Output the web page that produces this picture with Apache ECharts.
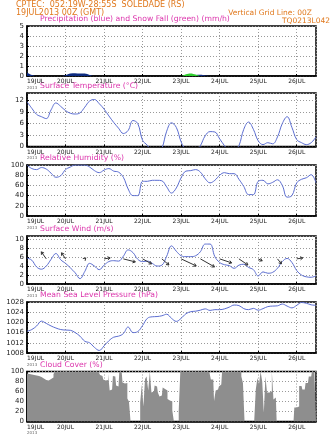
<!DOCTYPE html>
<html><head><meta charset="utf-8">
<script src="https://cdn.jsdelivr.net/npm/echarts@6/dist/echarts.min.js"></script>
<style>html,body{margin:0;padding:0;background:#fff}#c{width:336px;height:435px}</style>
</head><body><div id="c"></div>
<script>
// ---------- DATA ----------
const dayLabels = ['19JUL','20JUL','21JUL','22JUL','23JUL','24JUL','25JUL','26JUL'];
const yearLabel = '2013';
const stepHours = 3;      // series below are every 3 hours from 19JUL 00Z
const cloudStepHours = 1; // cloud cover is hourly

const precipBlue = [0.35,0.1,0,0,0,0,0,0,0.08,0.25, 0.28,0.25,0.25,0.1,0,0,0,0,0,0,
  0,0,0,0,0,0,0,0,0,0, 0,0,0,0,0.04,0.1,0.12,0.05,0,0, 0,0,0,0,0,0,0,0,0,0,
  0,0,0,0,0,0,0,0,0,0, 0];
const snowGreen = [0,0,0,0,0,0,0,0,0,0, 0,0,0,0,0,0,0,0,0,0,
  0,0,0,0,0,0,0,0,0,0, 0,0,0,0.18,0.25,0.14,0,0,0,0, 0,0,0,0,0,0,0,0,0,0,
  0,0,0,0,0,0,0,0,0,0, 0];
const temperature = [11.7,10.0,8.4,7.8,7.3,9.6,11.4,10.5,9.4,8.7,
  8.5,8.8,10.3,11.9,12.3,11.2,9.8,8.0,6.3,4.8,
  3.4,4.2,6.8,6.0,1.6,0.3,-1.5,-2,-0.5,4.0,
  6.2,5.0,1.2,-1.0,-2,-1.5,0.2,2.8,3.9,3.8,
  2.0,0.2,-1.5,-1.5,0.2,4.5,6.4,4.5,1.5,0.5,
  1.0,0.7,2.5,6.0,7.8,5.0,1.8,1.0,0.5,1.0, 2.5];
const humidity = [100,93,91,95,92,84,76,79,91,96,
  100,100,100,96,89,85,90,93,88,86,
  76,53,40,40,68,68,70,70,69,57,
  45,55,75,88,89,91,86,73,65,70,
  80,85,83,83,72,58,42,42,68,70,
  63,66,71,60,37,40,65,72,75,81, 65];
const windSpeed = [5.8,5.3,3.8,3.3,4.0,5.5,6.8,5.4,4.6,3.6,
  2.5,1.2,2.8,4.6,4.0,3.2,4.2,5.0,5.2,5.1,
  6.2,7.6,7.0,5.5,5.0,5.1,4.6,4.0,4.2,6.2,
  8.5,7.3,6.3,6.1,6.1,6.3,7.2,8.9,8.9,6.1,
  4.8,4.3,4.1,3.5,4.2,4.4,3.7,3.2,1.8,2.7,
  2.4,2.6,3.5,5.0,5.7,4.8,3.0,2.0,1.6,1.5, 1.8];
const arrowHours = [12,24,36,48,60,72,84,96,108,120,132,144,156,168];
const arrowU = [-3.1,-2.5,0.6,3.8,7.5,5.6,4.4,9.4,8.8,7.5,5.6,2.5,2.5,3.8];
const arrowV = [4.4,3.8,0.6,0.6,-1.9,-3.1,-3.8,-4.4,-5.0,-2.5,-3.8,-1.2,-3.1,0.6];
const pressure = [1016.5,1017.2,1018.6,1020.5,1019.6,1018.6,1017.8,1017.2,1017.0,1016.9,
  1016.0,1014.6,1012.6,1012.0,1010.2,1009.0,1010.8,1012.8,1014.2,1014.6,
  1015.6,1018.2,1016.0,1016.4,1018.8,1021.6,1022.2,1022.3,1022.6,1023.2,
  1021.6,1020.4,1021.6,1023.4,1024.2,1024.4,1024.8,1025.3,1024.7,1025.0,
  1025.0,1025.3,1026.0,1026.8,1026.6,1025.4,1025.0,1025.5,1024.8,1025.4,
  1026.2,1026.4,1026.5,1027.2,1026.4,1025.7,1026.7,1027.8,1027.5,1026.9, 1026.7];
const cloudCover = [
  96,95,95,94,93,92,92,91,90,89,
  86,84,83,82,83,85,88,95,100,100,
  100,100,100,100,100,100,100,100,100,100,
  100,100,100,100,100,100,100,100,100,100,
  100,100,100,100,100,100,93,91,84,82,
  83,95,62,64,91,90,72,70,100,98,
  78,76,77,46,40,0,0,0,0,0,
  0,38,74,30,85,90,62,100,58,60,
  72,70,58,50,52,68,65,62,45,42,
  40,22,0,0,0,22,100,100,100,100,
  100,100,100,100,100,100,100,100,100,100,
  100,100,100,100,100,84,84,41,62,64,
  70,74,100,100,100,100,100,100,100,100,
  100,100,100,100,90,77,0,0,0,0,
  0,0,0,64,87,75,100,80,18,90,
  58,58,60,100,44,48,0,0,0,0,
  0,0,0,0,0,0,0,28,28,30,
  71,71,64,64,77,77,90,90,100,100,
  44];

// ---------- LAYOUT / STYLE ----------
const ORANGE = '#e0781c', MAGENTA = '#dc34ac', LINE = '#5b6dd0';
const panels = [
  {top:26,   height:50,   min:0,    max:5,    interval:1,  title:'Precipitation (blue) and Snow Fall (green) (mm/h)'},
  {top:93,   height:53.5, min:0,    max:14,   interval:3,  title:'Surface Temperature (°C)'},
  {top:165,  height:51,   min:0,    max:100,  interval:20, title:'Relative Humidity (%)'},
  {top:236,  height:48,   min:0,    max:10.7, interval:2,  title:'Surface Wind (m/s)'},
  {top:302,  height:51,   min:1008, max:1028, interval:4,  title:'Mean Sea Level Pressure (hPa)'},
  {top:371.5,height:51,   min:0,    max:100,  interval:20, title:'Cloud Cover (%)'}
];
const arrowLevel = 5.6, arrowScale = 1.6;

const grids = [], xAxes = [], yAxes = [], graphics = [];
panels.forEach((p, i) => {
  grids.push({left:27, right:20, top:p.top, height:p.height, show:true,
    borderColor:'#000', borderWidth:1.5, backgroundColor:'#fff'});
  xAxes.push({type:'value', gridIndex:i, min:0, max:180, interval:24,
    axisLine:{show:true, lineStyle:{color:'#000', width:1.5}},
    axisTick:{show:true, inside:true, length:2, lineStyle:{color:'#000'}},
    splitLine:{show:true, lineStyle:{type:[1,2], color:'#999', width:1}},
    axisLabel:{margin:2, showMaxLabel:false, alignMinLabel:'left',
      formatter:(v)=>{const d=dayLabels[Math.round(v/24)]; if(!d) return ''; return v===0?'{d|'+d+'}\n{s|'+yearLabel+'}':'{d|'+d+'}';},
      rich:{d:{fontSize:6, fontFamily:'DejaVu Sans', color:'#222', lineHeight:7},
            s:{fontSize:4, fontFamily:'DejaVu Sans', color:'#666', lineHeight:5}}}
  });
  yAxes.push({type:'value', gridIndex:i, min:p.min, max:p.max, interval:p.interval,
    axisLine:{show:true, lineStyle:{color:'#000', width:1.5}},
    axisTick:{show:true, inside:true, length:2, lineStyle:{color:'#000'}},
    splitLine:{show:true, lineStyle:{type:[1,2], color:'#999', width:1}},
    axisLabel:{margin:3, fontSize:7, fontFamily:'DejaVu Sans', color:'#222',
      showMaxLabel: (p.max - p.min) % p.interval === 0, formatter:(v)=>String(v)}
  });
  graphics.push({type:'text', left:40, top:p.top - 10.5, style:{text:p.title, fill:MAGENTA, font:'7.7px "DejaVu Sans"'}});
});

graphics.push({type:'text', left:16, top:1, style:{text:'CPTEC:  052:19W-28:55S  SOLEDADE (RS)', fill:ORANGE, font:'8px "DejaVu Sans"'}});
graphics.push({type:'text', left:16, top:9, style:{text:'19JUL2013 00Z (GMT)', fill:ORANGE, font:'8px "DejaVu Sans"'}});
graphics.push({type:'text', right:24, top:9, style:{text:'Vertical Grid Line: 00Z', fill:ORANGE, font:'7.5px "DejaVu Sans"'}});
graphics.push({type:'text', right:6, top:17, style:{text:'TQ0213L042', fill:ORANGE, font:'7.5px "DejaVu Sans"'}});

const toXY = (arr, step) => arr.map((v, k) => [k * step, v]);
const lineSeries = (idx, arr) => ({type:'line', xAxisIndex:idx, yAxisIndex:idx, data:toXY(arr, stepHours),
  smooth:0.4, symbol:'none', lineStyle:{color:LINE, width:1}, clip:true, z:3});

const series = [
  {type:'line', xAxisIndex:0, yAxisIndex:0, data:toXY(precipBlue, stepHours), smooth:0.3, symbol:'none',
    lineStyle:{width:0}, areaStyle:{color:'#0c2a80', opacity:1}, z:3},
  {type:'line', xAxisIndex:0, yAxisIndex:0, data:toXY(snowGreen, stepHours), smooth:0.3, symbol:'none',
    lineStyle:{width:0}, areaStyle:{color:'#2fcf2f', opacity:1}, z:3},
  lineSeries(1, temperature),
  lineSeries(2, humidity),
  lineSeries(3, windSpeed),
  {type:'custom', xAxisIndex:3, yAxisIndex:3, z:4,
    data: arrowHours.map((h, k) => [h, arrowU[k], arrowV[k]]),
    renderItem:(params, api) => {
      const p = api.coord([api.value(0), arrowLevel]);
      const hx = p[0] + api.value(1) * arrowScale, hy = p[1] - api.value(2) * arrowScale;
      const ang = Math.atan2(hy - p[1], hx - p[0]);
      const L = 3, a1 = ang + Math.PI * 0.82, a2 = ang - Math.PI * 0.82;
      return {type:'group', children:[
        {type:'line', shape:{x1:p[0], y1:p[1], x2:hx, y2:hy}, style:{stroke:'#333', lineWidth:1}},
        {type:'polyline', shape:{points:[[hx + L*Math.cos(a1), hy + L*Math.sin(a1)], [hx, hy], [hx + L*Math.cos(a2), hy + L*Math.sin(a2)]]},
          style:{stroke:'#333', fill:null, lineWidth:1}}
      ]};
    }},
  lineSeries(4, pressure),
  {type:'line', xAxisIndex:5, yAxisIndex:5, data:toXY(cloudCover, cloudStepHours), step:'middle', symbol:'none',
    lineStyle:{width:0}, areaStyle:{color:'#8e8e8e', opacity:1}, z:3}
];

const chart = echarts.init(document.getElementById('c'), null, {renderer:'canvas'});
chart.setOption({animation:false, backgroundColor:'#fff', grid:grids, xAxis:xAxes, yAxis:yAxes, series:series, graphic:graphics});
</script></body></html>
